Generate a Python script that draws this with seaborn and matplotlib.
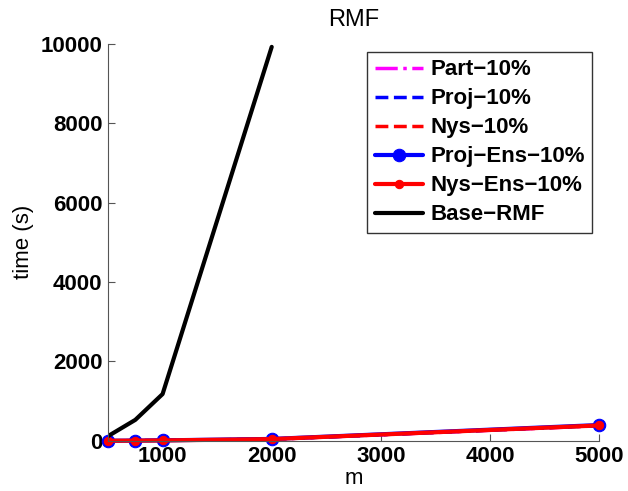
import numpy as np
import pandas as pd
import seaborn as sns
import matplotlib.pyplot as plt

m = [500, 750, 1000, 2000, 5000]
part_10 = [3, 6, 10, 40, 380]
proj_10 = [4, 7, 12, 45, 390]
nys_10 = [3, 6, 11, 42, 385]
proj_ens_10 = [5, 8, 14, 50, 400]
nys_ens_10 = [4, 7, 12, 46, 390]
base_m = [500, 750, 1000, 2000]
base_rmf = [120, 530, 1180, 9920]


def main():
  sns.set_style('white')
  plt.rcParams['font.family'] = ['Liberation Sans', 'DejaVu Sans']
  plt.rcParams['text.color'] = 'black'
  plt.rcParams['axes.labelcolor'] = 'black'
  plt.rcParams['xtick.color'] = 'black'
  plt.rcParams['ytick.color'] = 'black'
  fig = plt.figure(figsize=(6.28, 4.91), dpi=100)
  ax = fig.add_axes([0.172, 0.102, 0.782, 0.809])

  sns.lineplot(x=m, y=part_10, ax=ax, color='magenta', lw=2.5, label='Part\u221210%',
               linestyle='-.')
  sns.lineplot(x=m, y=proj_10, ax=ax, color='blue', lw=2.5, label='Proj\u221210%',
               linestyle='--')
  sns.lineplot(x=m, y=nys_10, ax=ax, color='red', lw=2.5, label='Nys\u221210%',
               linestyle='--')
  sns.lineplot(x=m, y=proj_ens_10, ax=ax, color='blue', lw=3, label='Proj\u2212Ens\u221210%',
               marker='o', markersize=9, markeredgecolor='blue', clip_on=False)
  sns.lineplot(x=m, y=nys_ens_10, ax=ax, color='red', lw=3, label='Nys\u2212Ens\u221210%',
               marker='o', markersize=6, markeredgecolor='red', clip_on=False)
  sns.lineplot(x=base_m, y=base_rmf, ax=ax, color='black', lw=3, label='Base\u2212RMF')

  ax.set_xlim(500, 5000)
  ax.set_ylim(0, 10000)
  ax.set_xticks([1000, 2000, 3000, 4000, 5000])
  ax.set_yticks([0, 2000, 4000, 6000, 8000, 10000])
  ax.tick_params(direction='in', length=5, width=0.8, bottom=True, left=True,
                 labelsize=16, pad=4)
  ax.tick_params(colors='#555555', labelcolor='black')
  for lab in ax.get_xticklabels() + ax.get_yticklabels():
    lab.set_fontweight('bold')
  for side in ['top', 'right']:
    ax.spines[side].set_visible(False)
  for side in ['left', 'bottom']:
    ax.spines[side].set_color('#555555')
    ax.spines[side].set_linewidth(0.8)

  ax.set_title('RMF', fontsize=17, pad=13)
  ax.set_xlabel('m', fontsize=16, labelpad=0.5)
  ax.set_ylabel('time (s)', fontsize=16, labelpad=5)

  leg = ax.legend(loc='upper left', bbox_to_anchor=(0.527, 0.98), prop={'weight': 'bold', 'size': 16},
                  frameon=True, fancybox=False, handlelength=2.2, borderpad=0.35,
                  labelspacing=0.36, handletextpad=0.3, borderaxespad=0)
  leg.get_frame().set_edgecolor('black')
  leg.get_frame().set_linewidth(1)

  plt.savefig('out.png', dpi=100)


if __name__ == '__main__':
  main()
